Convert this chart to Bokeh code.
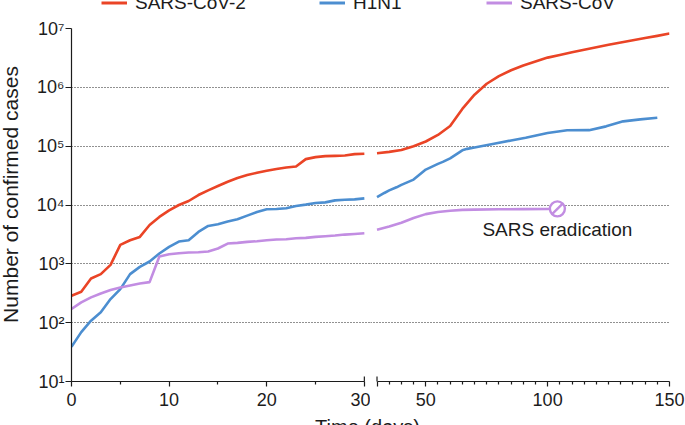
import numpy as np
from bokeh.plotting import figure
from bokeh.models import Range1d, FixedTicker, Legend, LegendItem, Label
from bokeh.layouts import row, column
from bokeh.embed import file_html
from bokeh.resources import INLINE

# ---------------- data ----------------
series_names = ["SARS-CoV-2", "H1N1", "SARS-CoV"]

early_days = list(range(0, 31))

cov2_early = [287, 335, 564, 668, 962, 2100, 2520, 2870, 4580, 6270, 8120, 10000,
              11690, 14770, 17730, 20990, 24850, 28700, 32230, 35320, 38190, 40780,
              43480, 45200, 60230, 65100, 67700, 68500, 69500, 73200, 74200]
h1n1_early = [39, 69, 108, 150, 252, 372, 668, 889, 1096, 1496, 1941, 2392, 2518,
              3487, 4406, 4701, 5221, 5715, 6594, 7606, 8445, 8547, 8790, 9617,
              10140, 10810, 11090, 11990, 12300, 12470, 12970]
sars_early = [171, 221, 269, 314, 358, 397, 430, 464, 489, 1331, 1458, 1517, 1556,
              1577, 1618, 1820, 2212, 2271, 2360, 2422, 2518, 2585, 2618, 2723,
              2760, 2869, 2946, 3023, 3142, 3224, 3309]

cov2_late_days = [30, 35, 40, 45, 50, 55, 60, 65, 70, 75, 80, 85, 90, 95, 100, 105,
                  110, 115, 120, 125, 130, 135, 140, 145, 150]
cov2_late = [76000, 80000, 86000, 100000, 120000, 155000, 220000, 430000, 750000,
             1150000, 1550000, 1950000, 2350000, 2750000, 3200000, 3550000, 3950000,
             4350000, 4800000, 5300000, 5800000, 6300000, 6900000, 7500000, 8200000]

h1n1_late_days = [30, 33, 35, 38, 40, 45, 50, 55, 57, 60, 65, 67, 70, 78, 85, 91,
                  100, 108, 117, 124, 131, 138, 145]
h1n1_late = [13600, 16000, 17700, 20000, 22000, 27000, 40000, 50000, 54000, 62000,
             85000, 90000, 95000, 110000, 125000, 139000, 167000, 186000, 187000,
             217000, 264000, 285000, 305000]

sars_late_days = [30, 35, 40, 45, 50, 55, 60, 65, 70, 80, 90, 100, 104]
sars_late = [3800, 4300, 5000, 6000, 7000, 7600, 8000, 8250, 8350, 8450, 8500,
             8550, 8600]

left_ticks = [0, 10, 20, 30]
left_minor = [5, 15, 25]
right_ticks = [30, 50, 100, 150]
right_minor = [35, 40, 45, 55, 60, 65, 70, 75, 80, 85, 90, 95, 105, 110, 115,
               120, 125, 130, 135, 140, 145]
y_ticks = [10, 100, 1000, 10000, 100000, 1000000, 10000000]
y_tick_labels = ["10¹", "10²", "10³", "10⁴", "10⁵", "10⁶", "10⁷"]
annotation_text = "SARS eradication"
x_title = "Time (days)"
y_title = "Number of confirmed cases"

# ---------------- style ----------------
FONT = "Liberation Sans"
INK = "#1c1c1c"
COLORS = ["#EA4426", "#4C8ED0", "#C28DE2"]
LW = 2.6

BREAK = 30
L_END = 30.63
R_START = 27.33
R_END = 150

y_range = Range1d(10, 10000000)


def base_fig(**kw):
    p = figure(output_backend="svg", toolbar_location=None, **kw)
    p.outline_line_color = None
    p.background_fill_color = "white"
    p.border_fill_color = "white"
    return p


def style_xaxis(ax):
    ax.axis_line_color = INK
    ax.axis_line_width = 1.2
    ax.major_tick_line_color = INK
    ax.major_tick_line_width = 1.2
    ax.minor_tick_line_color = INK
    ax.minor_tick_line_width = 1.2
    ax.major_tick_in = 0
    ax.major_tick_out = 5
    ax.minor_tick_in = 0
    ax.minor_tick_out = 3
    ax.major_label_text_font = FONT
    ax.major_label_text_font_size = "18px"
    ax.major_label_text_color = INK
    ax.major_label_standoff = 6


def style_grid(g):
    g.grid_line_color = "#222222"
    g.grid_line_dash = "1 2"
    g.grid_line_width = 1


common = dict(y_range=y_range, y_axis_type="log", frame_height=353,
              min_border_top=16, min_border_bottom=36)

# ---------------- left panel (0-30 days) ----------------
left = base_fig(x_range=Range1d(0, L_END), frame_width=299,
                min_border_left=46, min_border_right=0, **common)
left.xaxis.ticker = FixedTicker(ticks=left_ticks, minor_ticks=left_minor)
left.xaxis.bounds = (0, BREAK)
style_xaxis(left.xaxis[0])
yax = left.yaxis[0]
yax.ticker = FixedTicker(ticks=y_ticks)
yax.major_label_overrides = dict(zip(y_ticks, y_tick_labels))
yax.axis_line_color = INK
yax.axis_line_width = 1.2
yax.major_tick_line_color = INK
yax.major_tick_line_width = 1.2
yax.major_tick_in = 0
yax.major_tick_out = 6
yax.minor_tick_in = 0
yax.minor_tick_out = 0
yax.major_label_text_font = FONT
yax.major_label_text_font_size = "18px"
yax.major_label_text_color = INK
yax.major_label_standoff = 1
left.xgrid.visible = False
left.ygrid.ticker = FixedTicker(ticks=y_ticks[1:])
style_grid(left.ygrid[0])

# ---------------- right panel (30-150 days) ----------------
right = base_fig(x_range=Range1d(R_START, R_END), frame_width=299,
                 min_border_left=0, min_border_right=16, y_axis_location=None, **common)
right.xaxis.ticker = FixedTicker(ticks=right_ticks, minor_ticks=right_minor)
right.xaxis.bounds = (BREAK, R_END)
right.xaxis.major_label_overrides = {30: ""}
style_xaxis(right.xaxis[0])
right.xgrid.visible = False
right.ygrid.ticker = FixedTicker(ticks=y_ticks[1:])
style_grid(right.ygrid[0])

# axis-break marks (upper half; lower half is the tick)
for p in (left, right):
    p.scatter(x=[BREAK], y=[y_ticks[0]], marker="dash", angle=np.pi / 2, size=10,
              line_color=INK, line_width=1.2)

# ---------------- series ----------------
early = [cov2_early, h1n1_early, sars_early]
late = [(cov2_late_days, cov2_late), (h1n1_late_days, h1n1_late),
        (sars_late_days, sars_late)]
for ce, (ld, lc), col in zip(early, late, COLORS):
    left.line(early_days, ce, line_color=col, line_width=LW, line_join="round")
    right.line(ld, lc, line_color=col, line_width=LW, line_join="round")

# SARS eradication marker
right.scatter(x=[sars_late_days[-1]], y=[sars_late[-1]], marker="circle", size=15,
              line_color=COLORS[2], line_width=2.4, fill_color="white")
right.scatter(x=[sars_late_days[-1]], y=[sars_late[-1]], marker="dash", size=15,
              angle=np.pi / 4, line_color=COLORS[2], line_width=2.4)
right.add_layout(Label(x=sars_late_days[-1], y=sars_late[-1], y_offset=-21,
                       text=annotation_text, text_align="center",
                       text_baseline="alphabetic", text_font=FONT,
                       text_font_size="19px", text_color=INK))


# ---------------- strips for texts spanning both panels ----------------
def strip(w, h):
    s = base_fig(width=w, height=h, x_range=Range1d(0, 1), y_range=Range1d(0, 1),
                 min_border=0, x_axis_location=None, y_axis_location=None)
    s.xgrid.visible = False
    s.ygrid.visible = False
    return s


top = strip(685, 12)
legend_x = [101, 319, 486]
for name, col, lx in zip(series_names, COLORS, legend_x):
    # legend-only renderer (no visible data)
    r = top.line(x=[np.nan, np.nan], y=[np.nan, np.nan], line_color=col, line_width=3)
    lg = Legend(items=[LegendItem(label=name, renderers=[r])], location=(lx, -10.5),
                orientation="horizontal", padding=0, margin=0, spacing=0,
                border_line_color=None, background_fill_alpha=0,
                glyph_width=26, glyph_height=33, label_height=40, label_standoff=8,
                label_text_font=FONT, label_text_font_size="19px",
                label_text_color=INK)
    top.add_layout(lg)

ys = strip(25, 405)
ys.add_layout(Label(x=10, y=187, x_units="screen", y_units="screen", text=y_title,
                    angle=np.pi / 2, text_align="center", text_baseline="alphabetic",
                    text_font=FONT, text_font_size="21px", text_color=INK))

bot = strip(685, 25)
bot.add_layout(Label(x=367, y=16, x_units="screen", y_units="screen", text=x_title,
                     text_align="center", text_baseline="alphabetic",
                     text_font=FONT, text_font_size="20px", text_color=INK))

layout = column(top, row(ys, left, right), bot)
open("out.html", "w").write(file_html(layout, INLINE))
